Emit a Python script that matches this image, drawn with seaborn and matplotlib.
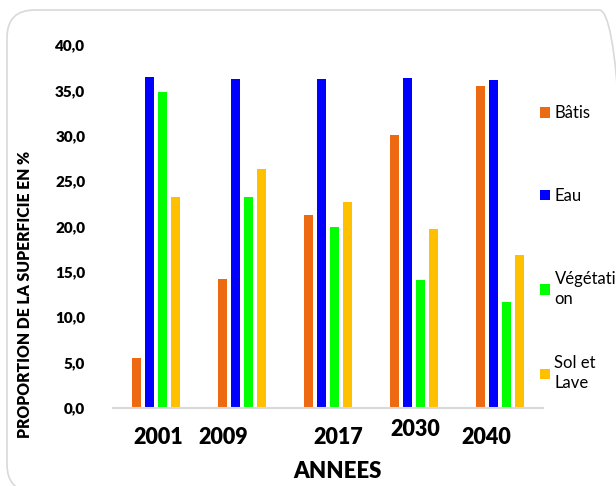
import pandas as pd
import seaborn as sns
import matplotlib.pyplot as plt
import matplotlib.transforms as mtransforms
from matplotlib.patches import FancyBboxPatch

YEARS = ["2001", "2009", "2017", "2030", "2040"]
SERIES = ["Bâtis", "Eau", "Végétation", "Sol et Lave"]
LEGEND_LABELS = ["Bâtis", "Eau", "Végétati\non", "Sol et\nLave"]

batis = [5.5, 14.2, 21.3, 30.1, 35.5]
eau = [36.5, 36.3, 36.2, 36.4, 36.1]
vegetation = [34.8, 23.3, 19.9, 14.1, 11.7]
sol_lave = [23.3, 26.3, 22.7, 19.7, 16.9]

Y_TICKS = [0, 5, 10, 15, 20, 25, 30, 35, 40]
Y_TICK_LABELS = ["0,0", "5,0", "10,0", "15,0", "20,0", "25,0", "30,0", "35,0", "40,0"]

colors = ["#ED6A12", "#0000FF", "#00FF00", "#FFC000"]

df = pd.DataFrame({
    "annee": YEARS * 4,
    "serie": [s for s in SERIES for _ in YEARS],
    "valeur": batis + eau + vegetation + sol_lave,
})

plt.rcParams["font.family"] = ["Lato", "DejaVu Sans"]
HEAVY = "heavy"

W, H = 616, 486
fig = plt.figure(figsize=(W / 100, H / 100), dpi=100)
ax = fig.add_axes([113 / W, 1 - 408 / H, 430 / W, 363 / H])

sns.barplot(data=df, x="annee", y="valeur", hue="serie", hue_order=SERIES,
            palette=colors, saturation=1, width=0.6, gap=0.25, ax=ax, legend=True)

ax.set_ylim(0, 40)
ax.set_xlim(-0.5, 4.5)
ax.set_yticks(Y_TICKS, Y_TICK_LABELS)
ax.tick_params(axis="both", length=0)
ax.tick_params(axis="y", pad=20, labelsize=11)
ax.tick_params(axis="x", pad=14, labelsize=15.5)
for lab in ax.get_yticklabels() + ax.get_xticklabels():
    lab.set_fontweight(HEAVY)

# year labels are not evenly placed in the original
offsets = [(2, 0), (-19, 0), (10, 0), (1, 8), (-14, 0)]
for lab, (dx, dy) in zip(ax.get_xticklabels(), offsets):
    lab.set_transform(lab.get_transform() +
                      mtransforms.ScaledTranslation(dx / 100, dy / 100, fig.dpi_scale_trans))

for s in ["top", "right", "left"]:
    ax.spines[s].set_visible(False)
ax.spines["bottom"].set_color("#d9d9d9")
ax.spines["bottom"].set_linewidth(1.5)

ax.set_xlabel("ANNEES", fontsize=16, fontweight=HEAVY)
ax.xaxis.set_label_coords(0.523, -0.147)
ax.set_ylabel("PROPORTION DE LA SUPERFICIE EN %", fontsize=11.3, fontweight=HEAVY)
ax.yaxis.set_label_coords(-0.186, 0.314)

# two legend blocks so the last entry sits where it does in the original
handles, _ = ax.get_legend_handles_labels()
leg_kw = dict(loc="upper left", bbox_transform=fig.transFigure, frameon=False,
              fontsize=12, borderpad=0, handlelength=0.6, handleheight=0.6,
              handletextpad=0.25)
leg1 = ax.legend(handles[:3], LEGEND_LABELS[:3], bbox_to_anchor=(532 / W, 1 - 97 / H),
                 labelspacing=4.0, **leg_kw)
ax.add_artist(leg1)
leg2 = ax.legend(handles[3:], LEGEND_LABELS[3:], bbox_to_anchor=(532 / W, 1 - 347 / H),
                 **leg_kw)
for leg in (leg1, leg2):
    for t in leg.get_texts():
        t.set_linespacing(1.3)

border = FancyBboxPatch((7 / W, -6 / H), 620 / W, (H - 10 + 6) / H,
                        boxstyle="round,pad=0,rounding_size=0.045",
                        transform=fig.transFigure, facecolor="none",
                        edgecolor="#d9d9d9", linewidth=1.2, mutation_aspect=W / H)
fig.patches.append(border)

fig.savefig("out.png", dpi=100)
